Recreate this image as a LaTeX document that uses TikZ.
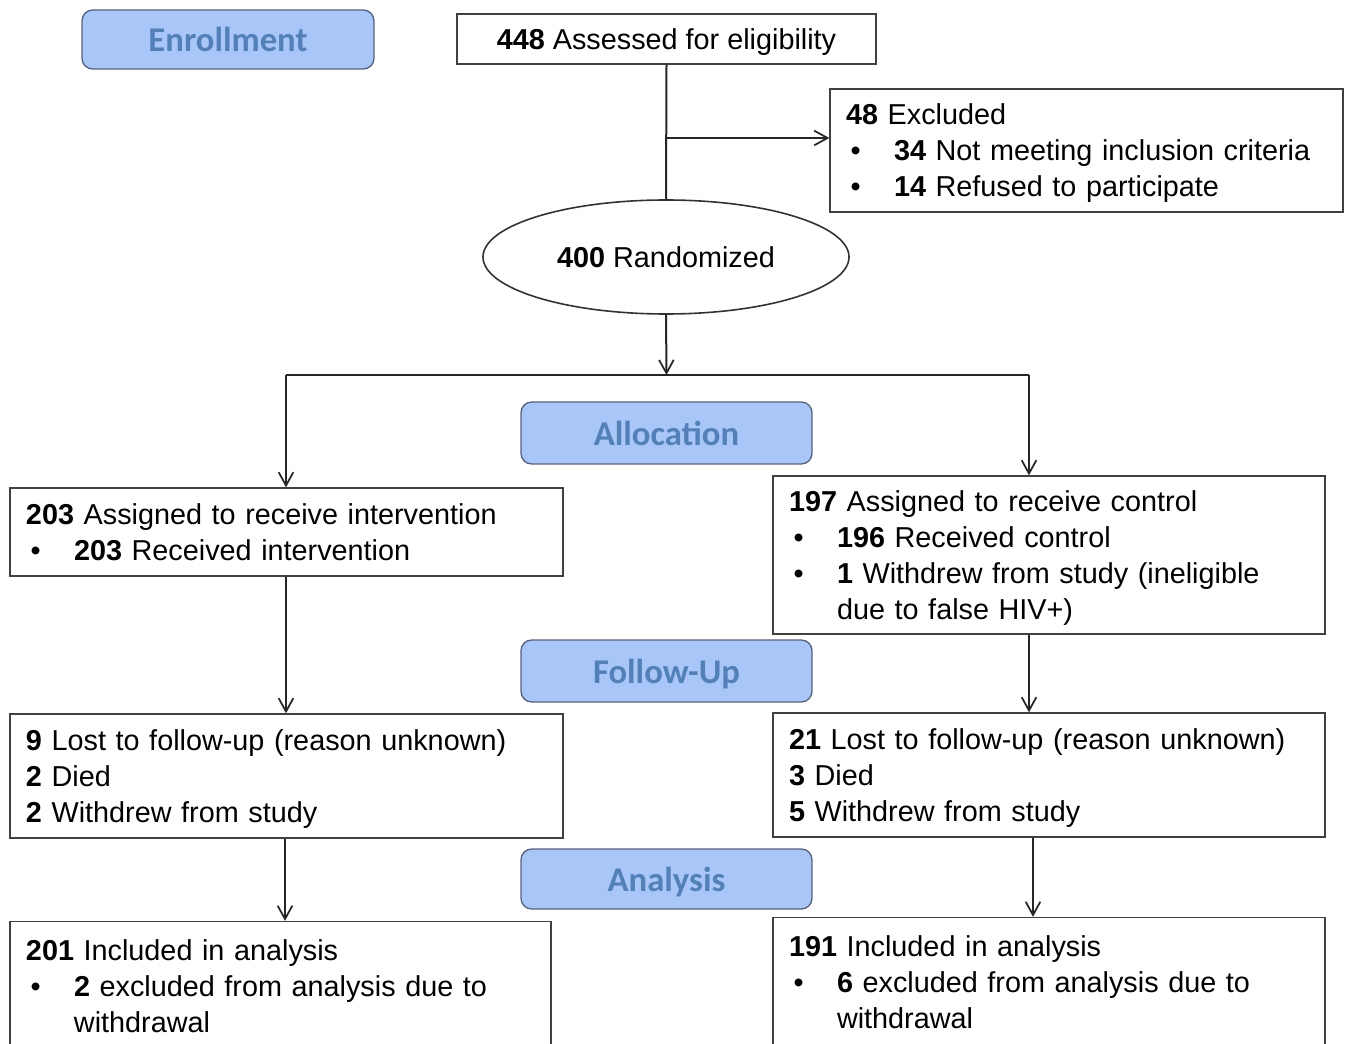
\documentclass[tikz,border=0pt]{standalone}
\usepackage{fontspec}
\setmainfont{Liberation Sans}
\newfontfamily\labelfont{Carlito}
\usetikzlibrary{arrows.meta,shapes.geometric}
\definecolor{lblfill}{RGB}{168,198,248}
\definecolor{lbldraw}{RGB}{88,98,125}
\definecolor{lbltext}{RGB}{84,128,184}
\newcommand{\bul}[1]{\makebox[36pt][l]{\hspace{3.5pt}\textbullet}#1}
\newcommand{\ind}{\hspace*{36pt}}
\newcommand{\nodepth}[1]{\raisebox{0pt}[\height][0pt]{#1}}
\begin{document}
\begin{tikzpicture}[x=0.75pt,y=-0.75pt,
  every node/.style={font=\fontsize{21.6pt}{27pt}\selectfont},
  stage/.style={draw=lbldraw, line width=1pt, fill=lblfill, rounded corners=8pt,
    minimum width=218.25pt, minimum height=46.5pt, inner sep=0pt, text depth=0pt,
    font=\labelfont\bfseries\fontsize{26pt}{30pt}\selectfont, text=lbltext},
  infobox/.style={draw=black!75, line width=1pt, align=left, inner xsep=12pt, inner ysep=0pt,
    text width=#1},
  conn/.style={line width=1.5pt, draw=black!85},
  arr/.style={conn, -{Straight Barb[length=10pt,width=11pt,line width=1.3pt]}}
]
\clip (0,0) rectangle (1349,1044);
\fill[white] (0,0) rectangle (1349,1044);

% stage labels
\node[stage, minimum width=219pt, minimum height=44.25pt] (enr) at (228,39.5) {Enrollment};
\node[stage] (alloc) at (666.5,433) {Allocation};
\node[stage] (fup) at (666.5,671) {Follow-Up};
\node[stage, minimum height=45pt] (ana) at (666.5,879) {Analysis};

% enrollment
\node[draw=black!75, line width=1pt, minimum width=314.25pt, minimum height=37.5pt, inner sep=0pt, text depth=0pt] (assess) at (666.5,39)
  {\textbf{448} Assessed for eligibility};
\node[infobox=360.75pt, minimum height=92.25pt] (excl) at (1086.5,150.5)
  {\textbf{48} Excluded\\ \bul{\textbf{34} Not meeting inclusion criteria}\\ \nodepth{\bul{\textbf{14} Refused to participate}}};
\node[draw=black!80, line width=1.2pt, ellipse, minimum width=274.5pt, minimum height=85.5pt, inner sep=0pt] (rand) at (666,257)
  {\textbf{400} Randomized};

% allocation
\node[infobox=390.75pt, minimum height=66pt] (l1) at (286.5,532)
  {\textbf{203} Assigned to receive intervention\\ \bul{\textbf{203} Received intervention}};
\node[infobox=390pt, minimum height=118.5pt] (r1) at (1049,555)
  {\textbf{197} Assigned to receive control\\ \bul{\textbf{196} Received control}\\ \bul{\textbf{1} Withdrew from study (ineligible}\\ \nodepth{\ind due to false HIV+)}};

% follow-up
\node[infobox=390.75pt, minimum height=93pt] (l2) at (286.5,776)
  {\textbf{9} Lost to follow-up (reason unknown)\\ \textbf{2} Died\\ \nodepth{\textbf{2} Withdrew from study}};
\node[infobox=390pt, minimum height=93pt] (r2) at (1049,775)
  {\textbf{21} Lost to follow-up (reason unknown)\\ \textbf{3} Died\\ \nodepth{\textbf{5} Withdrew from study}};

% analysis
\node[infobox=381.75pt, minimum height=97.5pt] (l3) at (280.5,986.5)
  {\textbf{201} Included in analysis\\ \bul{\textbf{2} excluded from analysis due to}\\ \ind withdrawal};
\node[infobox=390pt, minimum height=97.5pt] (r3) at (1049,982.5)
  {\textbf{191} Included in analysis\\ \bul{\textbf{6} excluded from analysis due to}\\ \ind withdrawal};

% connectors
\coordinate (br) at (666.5,138);
\coordinate (split) at (666.5,375);
\coordinate (sl) at (286,375);
\coordinate (sr) at (1029,375);
\coordinate (rx2) at (1033,838);

\draw[conn] (assess.south) -- (rand.north);
\draw[arr] (br) -- (br -| excl.west);
\draw[arr] (rand.south) -- (split);
\draw[conn] (sl) -- (sr);
\draw[arr] (sl) -- (sl |- l1.north);
\draw[arr] (sr) -- (sr |- r1.north);
\draw[arr] (l1.south -| sl) -- (l2.north -| sl);
\draw[arr] (r1.south -| sr) -- (r2.north -| sr);
\draw[arr] (l2.south -| 285,0) -- (l3.north -| 285,0);
\draw[arr] (r2.south -| rx2) -- (r3.north -| rx2);
\end{tikzpicture}
\end{document}
